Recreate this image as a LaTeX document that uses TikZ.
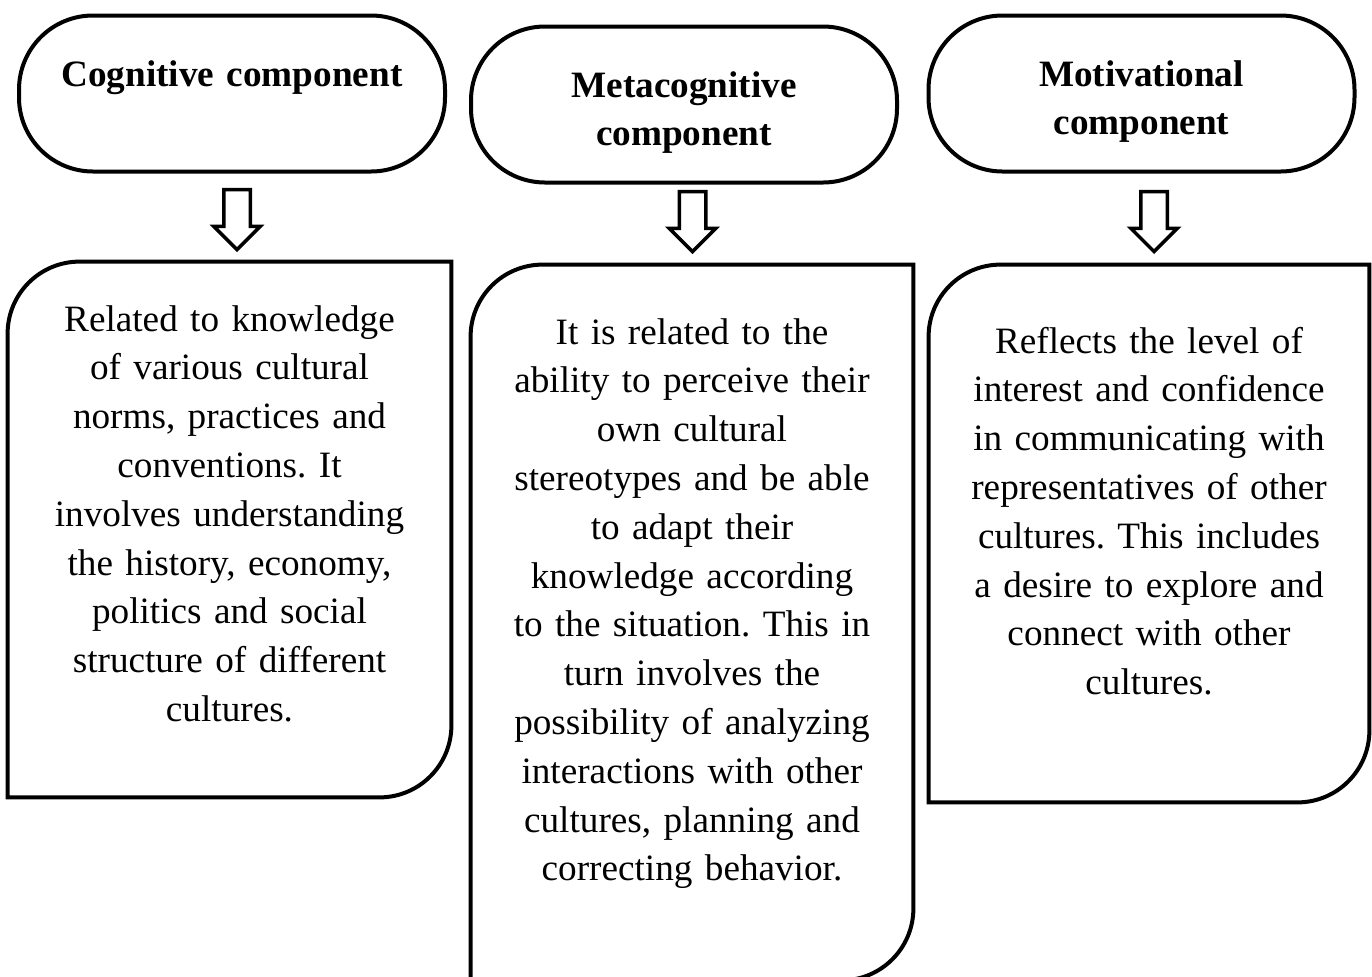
\documentclass[tikz,border=0pt]{standalone}
\usepackage{fontspec}
\setmainfont{Liberation Serif}
\usetikzlibrary{shapes.arrows}
\frenchspacing

\tikzset{
  headbox/.style={draw, line width=2pt, rounded corners=37pt, minimum width=213pt, minimum height=78pt},
  headtext/.style={font=\fontsize{18.6}{24}\selectfont\bfseries, align=center, text width=200pt, inner sep=0pt, anchor=base},
  bodyframe/.style={inner sep=0pt},
  bodytext/.style={font=\fontsize{18.6}{24.4}\selectfont, align=center, text width=215pt, inner sep=0pt, anchor=base},
  boxline/.style={line width=2pt},
  downarrow/.style={draw, line width=1.75pt, single arrow, shape border rotate=270, minimum height=30pt, minimum width=22pt, single arrow head extend=5pt, inner sep=5.75pt, anchor=tip}
}

\begin{document}
\begin{tikzpicture}[x=0.5pt, y=-0.5pt]
    \useasboundingbox (0,0) rectangle (1372,976);

    % headers
    \node[headbox] (cog) at (232,93.5) {};
    \node[headbox] (meta) at (684,104.5) {};
    \node[headbox] (motiv) at (1141.5,93.5) {};
    \node[headtext] (cogtitle) at (232,86) {Cognitive component};
    \node[headtext] (metatitle) at (684,97) {Metacognitive\\component};
    \node[headtext] (motivtitle) at (1141.5,86) {Motivational\\component};

    % arrows
    \node[downarrow] (cogarrow) at (237,252) {};
    \node[downarrow] (metaarrow) at (692.5,254) {};
    \node[downarrow] (motivarrow) at (1154,254) {};

    % bodies
    \node[bodyframe, minimum width=221.5pt, minimum height=267.5pt] (cogbody) at (229.5,529.5) {};
    \node[bodyframe, minimum width=221pt, minimum height=357.5pt] (metabody) at (692,622.5) {};
    \node[bodyframe, minimum width=220pt, minimum height=268.5pt] (motivbody) at (1149,533.5) {};

    \foreach \b in {cogbody,metabody,motivbody}
        \draw[boxline] (\b.north east) -- ([yshift=36pt]\b.south east)
            arc[start angle=0, end angle=-90, radius=36pt] -- (\b.south west)
            -- ([yshift=-36pt]\b.north west)
            arc[start angle=180, end angle=90, radius=36pt] -- cycle;

    \node[bodytext] (cogtext) at (229.5,331) {Related to knowledge\\of various cultural\\norms, practices and\\conventions. It\\involves understanding\\the history, economy,\\politics and social\\structure of different\\cultures.};
    \node[bodytext] (metatext) at (692,344) {It is related to the\\ability to perceive their\\own cultural\\stereotypes and be able\\to adapt their\\knowledge according\\to the situation. This in\\turn involves the\\possibility of analyzing\\interactions with other\\cultures, planning and\\correcting behavior.};
    \node[bodytext] (motivtext) at (1149,353) {Reflects the level of\\interest and confidence\\in communicating with\\representatives of other\\cultures. This includes\\a desire to explore and\\connect with other\\cultures.};
\end{tikzpicture}
\end{document}
